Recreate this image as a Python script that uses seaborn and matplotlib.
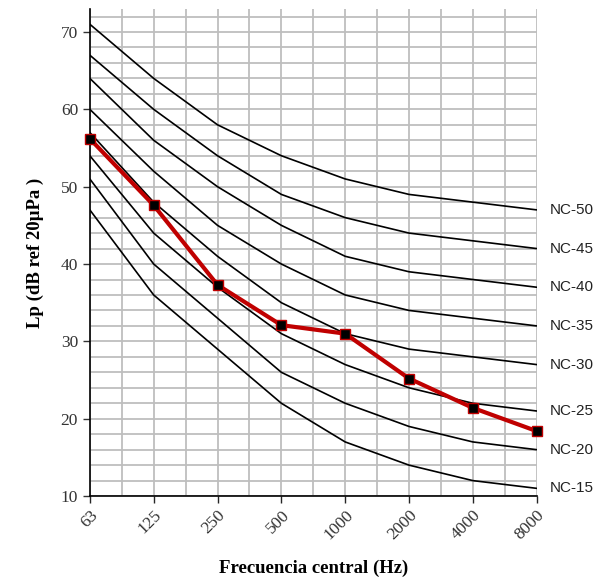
import matplotlib
matplotlib.use("Agg")
import matplotlib.pyplot as plt
import seaborn as sns
import numpy as np
import pandas as pd
from matplotlib.ticker import MultipleLocator

freqs = ["63", "125", "250", "500", "1000", "2000", "4000", "8000"]
nc_labels = ["NC-15", "NC-20", "NC-25", "NC-30", "NC-35", "NC-40", "NC-45", "NC-50"]
nc15 = [47, 36, 29, 22, 17, 14, 12, 11]
nc20 = [51, 40, 33, 26, 22, 19, 17, 16]
nc25 = [54, 44, 37, 31, 27, 24, 22, 21]
nc30 = [57, 48, 41, 35, 31, 29, 28, 27]
nc35 = [60, 52, 45, 40, 36, 34, 33, 32]
nc40 = [64, 56, 50, 45, 41, 39, 38, 37]
nc45 = [67, 60, 54, 49, 46, 44, 43, 42]
nc50 = [71, 64, 58, 54, 51, 49, 48, 47]
measured = [56.2, 47.6, 37.3, 32.1, 31.0, 25.2, 21.4, 18.4]

curves = [nc15, nc20, nc25, nc30, nc35, nc40, nc45, nc50]

sns.set_theme(style="white")
plt.rcParams['font.family'] = ['Liberation Serif', 'DejaVu Serif']

fig = plt.figure(figsize=(5.95, 5.85), dpi=100)
ax = fig.add_axes([0.151, 0.152, 0.751, 0.833])

pos = np.arange(len(freqs))
for name, vals in zip(nc_labels, curves):
    df = pd.DataFrame({"pos": pos, "Lp": vals})
    sns.lineplot(data=df, x="pos", y="Lp", ax=ax, color="black", linewidth=1.2, zorder=3)
    ax.text(pos[-1] + 0.2, vals[-1], name, ha="left", va="center",
            fontsize=11, family=["Liberation Sans", "DejaVu Sans"], color="#222222")

dfm = pd.DataFrame({"pos": pos, "Lp": measured})
sns.lineplot(data=dfm, x="pos", y="Lp", ax=ax, color="#C00000", linewidth=3,
             marker="s", markersize=7.5, markerfacecolor="black",
             markeredgecolor="#C00000", markeredgewidth=1, zorder=5)
ax.lines[-1].set_clip_on(False)

ax.set_xlim(0, 7)
ax.set_ylim(10, 73)
ax.set_xticks(pos)
ax.set_xticklabels(freqs, rotation=45, ha="right", rotation_mode="anchor", fontsize=12.5, color="#333333")
ax.xaxis.set_minor_locator(MultipleLocator(0.5))
ax.yaxis.set_major_locator(MultipleLocator(10))
ax.yaxis.set_minor_locator(MultipleLocator(2))
ax.tick_params(axis="y", labelsize=12.5, colors="#333333", length=5, width=1, direction="out", left=True)
ax.tick_params(axis="x", length=5, width=1, direction="out", bottom=True, pad=3)
ax.tick_params(which="minor", length=0)
ax.grid(which="both", color="#BEBEBE", linewidth=1.3)
ax.set_axisbelow(True)

for s in ["top", "right"]:
    ax.spines[s].set_visible(False)
for s in ["left", "bottom"]:
    ax.spines[s].set_color("black")
    ax.spines[s].set_linewidth(1.2)

ax.set_xlabel("Frecuencia central (Hz)", fontsize=13.5, fontweight="bold", labelpad=12, color="black")
ax.set_ylabel("Lp (dB ref 20µPa )", fontsize=13.5, fontweight="bold", labelpad=12, color="black")

fig.savefig("out.png", dpi=100)
